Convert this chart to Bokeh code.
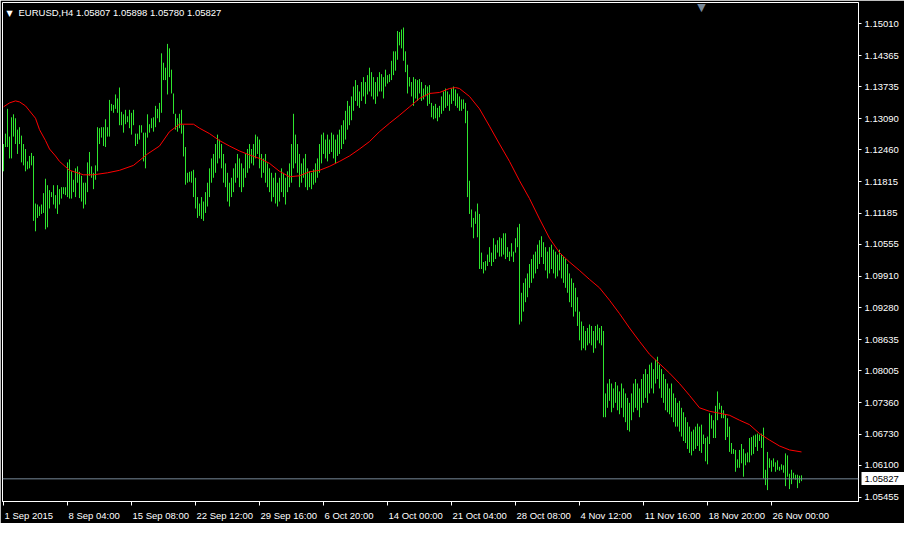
from bokeh.plotting import figure
from bokeh.models import (FixedTicker, PrintfTickFormatter, Label, Span, Range1d,
                          LinearAxis)
from bokeh.embed import file_html
from bokeh.resources import INLINE

# ---------------- data (EURUSD, H4 bars) ----------------
symbol_title = "EURUSD,H4  1.05807 1.05898 1.05780 1.05827"
last_price = 1.05827

highs = [
    1.1258,1.1279,1.1329,1.1273,1.1312,1.1318,1.1310,1.1287,1.1292,1.1275,
    1.1258,1.1248,1.1223,1.1234,1.1240,1.1234,1.1138,1.1136,1.1132,1.1136,
    1.1159,1.1188,1.1175,1.1165,1.1161,1.1175,1.1155,1.1175,1.1167,1.1171,
    1.1171,1.1171,1.1221,1.1227,1.1203,1.1186,1.1209,1.1213,1.1202,1.1194,
    1.1180,1.1180,1.1221,1.1242,1.1213,1.1200,1.1215,1.1292,1.1290,1.1292,
    1.1292,1.1308,1.1292,1.1347,1.1339,1.1337,1.1358,1.1350,1.1372,1.1323,
    1.1318,1.1327,1.1314,1.1327,1.1321,1.1327,1.1279,1.1279,1.1296,1.1296,
    1.1281,1.1281,1.1318,1.1298,1.1310,1.1312,1.1335,1.1329,1.1341,1.1441,
    1.1422,1.1412,1.1460,1.1451,1.1408,1.1360,1.1319,1.1310,1.1319,1.1327,
    1.1296,1.1252,1.1200,1.1202,1.1203,1.1206,1.1190,1.1151,1.1138,1.1151,
    1.1142,1.1161,1.1180,1.1209,1.1229,1.1238,1.1258,1.1277,1.1267,1.1258,
    1.1238,1.1219,1.1200,1.1180,1.1190,1.1209,1.1219,1.1238,1.1229,1.1219,
    1.1209,1.1238,1.1248,1.1258,1.1248,1.1258,1.1277,1.1273,1.1267,1.1238,
    1.1229,1.1238,1.1219,1.1209,1.1200,1.1190,1.1200,1.1180,1.1190,1.1209,
    1.1200,1.1190,1.1203,1.1219,1.1258,1.1319,1.1277,1.1258,1.1238,1.1219,
    1.1229,1.1238,1.1209,1.1203,1.1200,1.1207,1.1219,1.1229,1.1258,1.1277,
    1.1281,1.1267,1.1277,1.1267,1.1281,1.1277,1.1267,1.1277,1.1287,1.1296,
    1.1306,1.1325,1.1345,1.1335,1.1354,1.1374,1.1387,1.1377,1.1364,1.1383,
    1.1393,1.1383,1.1397,1.1412,1.1403,1.1393,1.1383,1.1393,1.1403,1.1399,
    1.1393,1.1408,1.1397,1.1399,1.1426,1.1445,1.1445,1.1486,1.1484,1.1489,
    1.1493,1.1445,1.1418,1.1393,1.1383,1.1393,1.1389,1.1387,1.1389,1.1383,
    1.1370,1.1377,1.1374,1.1377,1.1341,1.1335,1.1339,1.1331,1.1335,1.1354,
    1.1364,1.1370,1.1364,1.1358,1.1370,1.1374,1.1368,1.1360,1.1354,1.1348,
    1.1348,1.1341,1.1325,1.1184,1.1126,1.1109,1.1122,1.1138,1.1117,1.1039,
    1.1020,1.1022,1.1035,1.1050,1.1039,1.1068,1.1055,1.1064,1.1070,1.1068,
    1.1078,1.1078,1.1050,1.1041,1.1058,1.1041,1.1068,1.1090,1.1097,1.0958,
    1.0978,1.0987,1.0997,1.1016,1.1026,1.1035,1.1041,1.1055,1.1064,1.1072,
    1.1060,1.1050,1.1041,1.1050,1.1055,1.1045,1.1041,1.1035,1.1045,1.1035,
    1.1030,1.1026,1.1016,1.0997,1.0987,1.0978,1.0968,1.0949,1.0920,1.0900,
    1.0891,1.0881,1.0887,1.0894,1.0891,1.0881,1.0891,1.0894,1.0887,1.0891,
    1.0881,1.0755,1.0775,1.0784,1.0775,1.0765,1.0778,1.0771,1.0759,1.0775,
    1.0765,1.0755,1.0746,1.0736,1.0755,1.0775,1.0784,1.0775,1.0765,1.0784,
    1.0794,1.0804,1.0794,1.0813,1.0817,1.0804,1.0823,1.0829,1.0813,1.0804,
    1.0794,1.0784,1.0775,1.0765,1.0775,1.0755,1.0746,1.0736,1.0740,1.0726,
    1.0717,1.0707,1.0697,1.0688,1.0678,1.0682,1.0688,1.0694,1.0688,1.0692,
    1.0672,1.0665,1.0668,1.0715,1.0711,1.0701,1.0730,1.0759,1.0736,1.0730,
    1.0721,1.0713,1.0705,1.0688,1.0655,1.0643,1.0641,1.0622,1.0641,1.0653,
    1.0643,1.0634,1.0636,1.0665,1.0667,1.0670,1.0672,1.0674,1.0672,1.0674,
    1.0686,1.0601,1.0637,1.0624,1.0620,1.0624,1.0616,1.0620,1.0607,1.0612,
    1.0610,1.0634,1.0630,1.0593,1.0601,1.0595,1.0591,1.0591,1.0589,1.05898,
]
lows = [
    1.1203,1.1252,1.1252,1.1229,1.1229,1.1273,1.1258,1.1238,1.1258,1.1221,
    1.1215,1.1203,1.1207,1.1209,1.1215,1.1103,1.1082,1.1109,1.1113,1.1117,
    1.1119,1.1086,1.1090,1.1128,1.1151,1.1136,1.1128,1.1117,1.1136,1.1148,
    1.1157,1.1155,1.1151,1.1148,1.1148,1.1161,1.1151,1.1180,1.1149,1.1142,
    1.1128,1.1136,1.1161,1.1194,1.1190,1.1167,1.1186,1.1203,1.1258,1.1271,
    1.1254,1.1252,1.1273,1.1273,1.1325,1.1321,1.1329,1.1321,1.1296,1.1296,
    1.1281,1.1298,1.1302,1.1290,1.1277,1.1296,1.1254,1.1258,1.1267,1.1281,
    1.1223,1.1209,1.1271,1.1281,1.1290,1.1283,1.1292,1.1310,1.1302,1.1321,
    1.1387,1.1387,1.1358,1.1393,1.1360,1.1319,1.1287,1.1283,1.1290,1.1279,
    1.1233,1.1176,1.1180,1.1182,1.1180,1.1151,1.1128,1.1109,1.1113,1.1107,
    1.1103,1.1119,1.1132,1.1151,1.1180,1.1190,1.1200,1.1219,1.1229,1.1209,
    1.1180,1.1171,1.1142,1.1132,1.1151,1.1161,1.1180,1.1190,1.1171,1.1161,
    1.1171,1.1190,1.1200,1.1209,1.1219,1.1215,1.1229,1.1238,1.1209,1.1190,
    1.1200,1.1180,1.1171,1.1161,1.1142,1.1151,1.1138,1.1132,1.1142,1.1161,
    1.1151,1.1136,1.1161,1.1171,1.1180,1.1209,1.1219,1.1200,1.1171,1.1180,
    1.1190,1.1171,1.1165,1.1171,1.1167,1.1176,1.1180,1.1190,1.1200,1.1219,
    1.1238,1.1229,1.1223,1.1238,1.1242,1.1229,1.1219,1.1234,1.1238,1.1248,
    1.1258,1.1267,1.1287,1.1296,1.1306,1.1325,1.1345,1.1335,1.1331,1.1345,
    1.1354,1.1339,1.1358,1.1364,1.1354,1.1348,1.1339,1.1354,1.1364,1.1364,
    1.1350,1.1374,1.1380,1.1383,1.1387,1.1397,1.1406,1.1428,1.1457,1.1451,
    1.1426,1.1403,1.1360,1.1374,1.1354,1.1335,1.1350,1.1345,1.1360,1.1345,
    1.1348,1.1354,1.1335,1.1339,1.1312,1.1308,1.1310,1.1304,1.1312,1.1319,
    1.1325,1.1331,1.1335,1.1325,1.1339,1.1345,1.1335,1.1331,1.1325,1.1325,
    1.1329,1.1300,1.1151,1.1117,1.1090,1.1068,1.1097,1.1070,1.1006,1.1006,
    1.0997,1.1003,1.1012,1.1020,1.1012,1.1020,1.1026,1.1039,1.1031,1.1031,
    1.1035,1.1026,1.1030,1.1022,1.1031,1.1020,1.1039,1.1050,1.0894,1.0900,
    1.0920,1.0939,1.0949,1.0968,1.0978,1.0987,1.0997,1.1006,1.1016,1.1030,
    1.1016,1.1003,1.0987,1.0997,1.1006,1.0997,1.0987,1.0991,1.1003,1.0987,
    1.0978,1.0968,1.0958,1.0939,1.0929,1.0910,1.0920,1.0891,1.0862,1.0842,
    1.0846,1.0842,1.0852,1.0856,1.0852,1.0837,1.0846,1.0862,1.0856,1.0852,
    1.0707,1.0707,1.0726,1.0740,1.0717,1.0726,1.0736,1.0721,1.0713,1.0726,
    1.0707,1.0697,1.0681,1.0678,1.0701,1.0717,1.0726,1.0721,1.0707,1.0726,
    1.0736,1.0746,1.0736,1.0755,1.0765,1.0755,1.0775,1.0784,1.0765,1.0746,
    1.0736,1.0721,1.0717,1.0713,1.0707,1.0697,1.0688,1.0688,1.0678,1.0668,
    1.0659,1.0655,1.0643,1.0635,1.0630,1.0639,1.0643,1.0649,1.0639,1.0635,
    1.0653,1.0618,1.0612,1.0653,1.0684,1.0665,1.0665,1.0701,1.0723,1.0705,
    1.0705,1.0661,1.0667,1.0637,1.0633,1.0633,1.0597,1.0605,1.0605,1.0614,
    1.0587,1.0610,1.0616,1.0616,1.0630,1.0633,1.0647,1.0639,1.0659,1.0645,
    1.0583,1.0570,1.0560,1.0605,1.0597,1.0607,1.0597,1.0601,1.0599,1.0601,
    1.0595,1.0568,1.0587,1.0562,1.0572,1.0583,1.0581,1.0564,1.0574,1.05780,
]

# moving average (red line), read at selected bars
ma_bar = [0,3,6,8,11,13,16,18,21,23,26,28,33,40,45,52,58,65,72,78,
          83,88,95,98,103,108,113,118,123,128,133,138,143,148,153,158,163,168,173,178,
          183,188,193,198,203,208,213,218,223,226,228,233,238,243,248,253,258,263,268,273,
          278,283,288,293,298,303,308,313,318,323,328,333,338,343,348,353,358,363,368,373,
          378,383,388,393,399]
ma_val = [1.1333,1.1341,1.1345,1.1343,1.1335,1.1325,1.1310,1.1287,1.1265,1.1248,
          1.1234,1.1223,1.1205,1.1196,1.1196,1.1200,1.1205,1.1215,1.1238,1.1254,
          1.1283,1.1298,1.1298,1.1290,1.1279,1.1265,1.1254,1.1244,1.1236,1.1229,
          1.1219,1.1203,1.1192,1.1194,1.1202,1.1205,1.1213,1.1223,1.1234,1.1248,
          1.1263,1.1283,1.1300,1.1316,1.1333,1.1350,1.1360,1.1362,1.1370,1.1372,
          1.1370,1.1354,1.1329,1.1294,1.1258,1.1223,1.1184,1.1148,1.1107,1.1068,
          1.1039,1.1020,1.1003,1.0985,1.0968,1.0943,1.0916,1.0887,1.0860,1.0834,
          1.0815,1.0796,1.0775,1.0751,1.0726,1.0719,1.0715,1.0711,1.0701,1.0692,
          1.0674,1.0661,1.0649,1.0641,1.0637]

x_tick_bars = [0, 32, 64, 96, 128, 160, 192, 224, 256, 288, 320, 352, 384]
x_tick_labels = ["1 Sep 2015", "8 Sep 04:00", "15 Sep 08:00", "22 Sep 12:00",
                 "29 Sep 16:00", "6 Oct 20:00", "14 Oct 00:00", "21 Oct 04:00",
                 "28 Oct 08:00", "4 Nov 12:00", "11 Nov 16:00", "18 Nov 20:00",
                 "26 Nov 00:00"]
y_tick_values = [1.15010, 1.14365, 1.13735, 1.13090, 1.12460, 1.11815, 1.11185,
                 1.10555, 1.09910, 1.09280, 1.08635, 1.08005, 1.07360, 1.06730,
                 1.06100, 1.05455]
y_low, y_high = 1.05370, 1.15435
shift_marker_bar = 349

# ---------------- styling ----------------
W, H = 904, 523
BL, BR, BT, BB = 2, 46, 2, 16
FONT = "Liberation Sans"
FSZ = 9.5
FS = "%gpx" % FSZ
BAR_COLOR = "#2EE62E"
MA_COLOR = "#FF0000"
BID_GRAY = "#778899"
PX_PER_BAR = 2.0

frame_w = W - BL - BR
x0 = -0.5
x1 = x0 + frame_w / PX_PER_BAR

p = figure(width=W, height=H, output_backend="svg", toolbar_location=None,
           y_axis_location="right",
           x_range=Range1d(x0, x1), y_range=Range1d(y_low, y_high),
           min_border_left=BL, min_border_right=BR, min_border_top=BT, min_border_bottom=BB,
           background_fill_color="black", border_fill_color="black",
           outline_line_color="white", outline_line_width=1)

p.xgrid.visible = False
p.ygrid.visible = False

# right price axis
ya = p.yaxis[0]
ya.ticker = FixedTicker(ticks=y_tick_values)
ya.formatter = PrintfTickFormatter(format="%.5f")
ya.axis_line_color = "white"
ya.major_tick_line_color = "white"
ya.major_tick_out = 3
ya.major_tick_in = 0
ya.minor_tick_line_color = None
ya.minor_tick_out = 0
ya.major_label_text_color = "white"
ya.major_label_text_font = FONT
ya.major_label_text_font_size = FS
ya.major_label_standoff = 3

# bottom time axis: tick marks at the dates (minor ticks), labels left-aligned
# at each tick (major label centred half a text width to the right)
CHAR_W = {' ': .278, ':': .278, 'S': .667, 'e': .556, 'p': .556, 'O': .778,
          'c': .5, 't': .278, 'N': .722, 'o': .556, 'v': .5}
def text_width(s):
    return sum(CHAR_W.get(ch, .556) for ch in s) * FSZ

label_centres = [b + (text_width(s) / 2.0 + 1.0) / PX_PER_BAR
                 for b, s in zip(x_tick_bars, x_tick_labels)]

xa = p.xaxis[0]
xa.ticker = FixedTicker(ticks=label_centres, minor_ticks=x_tick_bars)
xa.major_label_overrides = {c: s for c, s in zip(label_centres, x_tick_labels)}
xa.axis_line_color = "white"
xa.major_tick_line_color = None
xa.major_tick_out = 0
xa.major_tick_in = 0
xa.minor_tick_line_color = "white"
xa.minor_tick_out = 4
xa.minor_tick_in = 0
xa.major_label_text_color = "white"
xa.major_label_text_font = FONT
xa.major_label_text_font_size = FS
xa.major_label_standoff = 4

# bars (high-low)
idx = list(range(len(highs)))
p.segment(x0=idx, y0=lows, x1=idx, y1=highs, line_color=BAR_COLOR, line_width=1)

# moving average
p.line(ma_bar, ma_val, line_color=MA_COLOR, line_width=1)

# bid line
p.add_layout(Span(location=last_price, dimension="width", line_color=BID_GRAY, line_width=1))

# bid price tag on the price scale: a second right axis whose single tick is
# drawn back over the price scale as a white box holding the black price
tag_axis = LinearAxis(ticker=FixedTicker(ticks=[last_price]),
                      formatter=PrintfTickFormatter(format="%.5f"))
tag_axis.axis_line_color = None
tag_axis.major_tick_line_color = "white"
tag_axis.major_tick_line_width = 13
tag_axis.major_tick_line_cap = "butt"
tag_axis.major_tick_in = 40
tag_axis.major_tick_out = 8
tag_axis.minor_tick_line_color = None
tag_axis.minor_tick_out = 0
tag_axis.minor_tick_in = 0
tag_axis.major_label_text_color = "black"
tag_axis.major_label_text_font = FONT
tag_axis.major_label_text_font_size = FS
tag_axis.major_label_standoff = -45
p.add_layout(tag_axis, "right")

# header
p.add_layout(Label(x=x0, y=y_high, text="\u25BC", text_align="left", text_baseline="top",
                   x_offset=4, y_offset=-6, text_color="white", text_font="DejaVu Sans",
                   text_font_size="8px"))
p.add_layout(Label(x=x0, y=y_high, text=symbol_title, text_align="left", text_baseline="top",
                   x_offset=16, y_offset=-4, text_color="white", text_font=FONT,
                   text_font_size=FS))
# chart shift marker
p.add_layout(Label(x=shift_marker_bar, y=y_high, text="\u25BC", text_align="center",
                   text_baseline="top", y_offset=2, text_color=BID_GRAY,
                   text_font="DejaVu Sans", text_font_size="11px"))

open("out.html", "w").write(file_html(p, INLINE))
